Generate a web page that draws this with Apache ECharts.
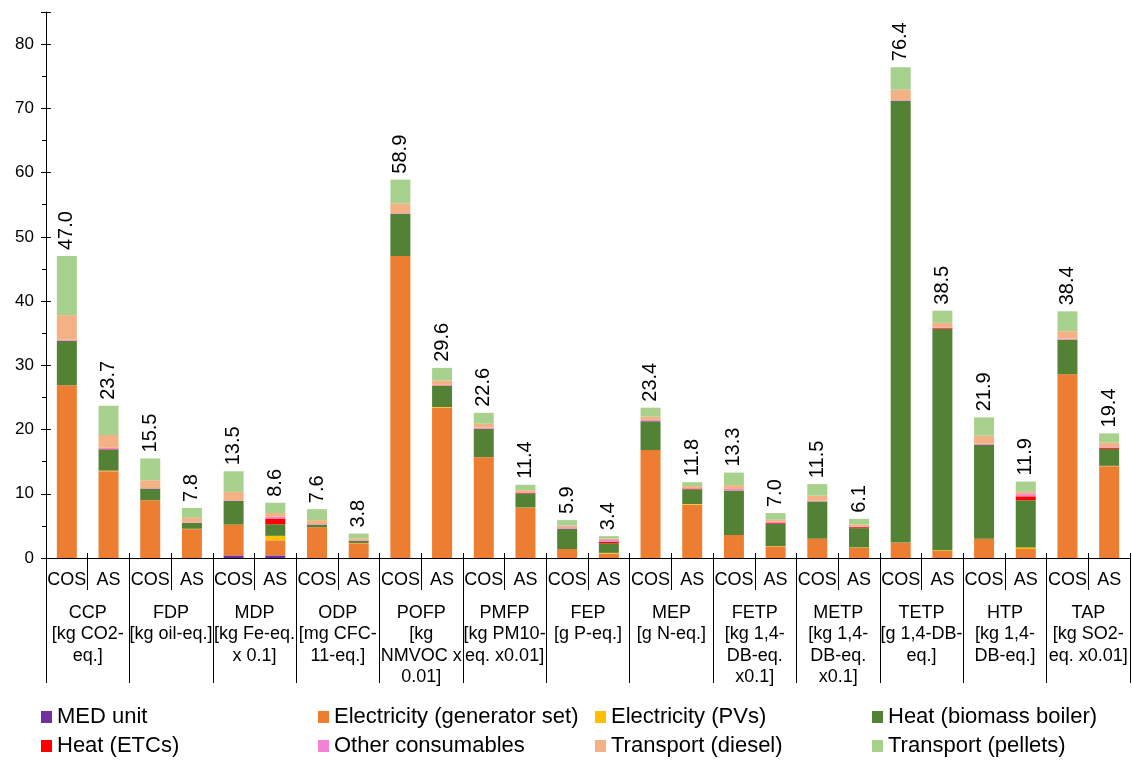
<!DOCTYPE html>
<html>
<head>
<meta charset="utf-8">
<script src="https://cdn.jsdelivr.net/npm/echarts@6/dist/echarts.min.js"></script>
<style>
  html, body { margin: 0; padding: 0; background: #fff; }
  #chart { width: 1132px; height: 760px; }
</style>
</head>
<body>
<div id="chart"></div>
<script>
// bar labels (COS / AS per impact category)
const scenarios = ['COS', 'AS', 'COS', 'AS', 'COS', 'AS', 'COS', 'AS', 'COS', 'AS', 'COS', 'AS', 'COS', 'AS',
    'COS', 'AS', 'COS', 'AS', 'COS', 'AS', 'COS', 'AS', 'COS', 'AS', 'COS', 'AS'];

// impact categories (second row of the x axis)
const groups = [
    'CCP\n[kg CO2-\neq.]',
    'FDP\n[kg oil-eq.]',
    'MDP\n[kg Fe-eq.\nx 0.1]',
    'ODP\n[mg CFC-\n11-eq.]',
    'POFP\n[kg\nNMVOC x\n0.01]',
    'PMFP\n[kg PM10-\neq. x0.01]',
    'FEP\n[g P-eq.]',
    'MEP\n[g N-eq.]',
    'FETP\n[kg 1,4-\nDB-eq.\nx0.1]',
    'METP\n[kg 1,4-\nDB-eq.\nx0.1]',
    'TETP\n[g 1,4-DB-\neq.]',
    'HTP\n[kg 1,4-\nDB-eq.]',
    'TAP\n[kg SO2-\neq. x0.01]'
];

// contributions
const medUnit = [0, 0, 0, 0, 0.4, 0.4, 0, 0, 0, 0, 0, 0, 0, 0, 0, 0, 0, 0, 0, 0, 0, 0, 0, 0, 0, 0];
const elecGen = [26.9, 13.5, 9.0, 4.5, 4.8, 2.35, 4.8, 2.3, 47.0, 23.4, 15.7, 7.8, 1.4, 0.7,
    16.8, 8.3, 3.6, 1.8, 3.0, 1.6, 2.4, 1.1, 3.0, 1.4, 28.6, 14.3];
const elecPV = [0, 0.1, 0, 0.05, 0, 0.7, 0, 0.05, 0, 0.1, 0, 0.05, 0, 0.1,
    0, 0.1, 0, 0.05, 0, 0.05, 0, 0.1, 0, 0.25, 0, 0.05];
const heatBiomass = [6.9, 3.3, 1.8, 0.9, 3.7, 1.8, 0.4, 0.3, 6.6, 3.3, 4.4, 2.2, 3.15, 1.5,
    4.5, 2.3, 6.9, 3.5, 5.8, 3.0, 68.8, 34.5, 14.6, 7.35, 5.4, 2.65];
const heatETC = [0, 0.05, 0, 0, 0, 0.9, 0, 0, 0, 0.05, 0, 0.1, 0, 0.25,
    0, 0.1, 0, 0.1, 0, 0.15, 0, 0.1, 0, 0.6, 0, 0.15];
const otherCons = [0.2, 0.2, 0.1, 0.1, 0.1, 0.25, 0.1, 0.1, 0.1, 0.1, 0.2, 0.1, 0.25, 0.25,
    0.2, 0.1, 0.25, 0.2, 0.1, 0.1, 0.1, 0.1, 0.2, 0.35, 0.15, 0.1];
const transDiesel = [3.8, 2.0, 1.2, 0.7, 1.3, 0.6, 0.6, 0.3, 1.5, 0.7, 0.6, 0.3, 0.25, 0.2,
    0.5, 0.3, 0.6, 0.3, 0.8, 0.3, 1.6, 0.7, 1.25, 0.35, 1.15, 0.7];
const transPellets = [9.2, 4.55, 3.4, 1.55, 3.2, 1.6, 1.7, 0.75, 3.7, 1.95, 1.7, 0.85, 0.85, 0.4,
    1.4, 0.6, 1.95, 1.05, 1.8, 0.9, 3.5, 1.9, 2.85, 1.6, 3.1, 1.45];

const seriesNames = ['MED unit', 'Electricity (generator set)', 'Electricity (PVs)', 'Heat (biomass boiler)',
    'Heat (ETCs)', 'Other consumables', 'Transport (diesel)', 'Transport (pellets)'];
const seriesData = [medUnit, elecGen, elecPV, heatBiomass, heatETC, otherCons, transDiesel, transPellets];
const colors = ['#7030A0', '#ED7D31', '#FFC000', '#548235', '#FF0000', '#F383D6', '#F4B183', '#A9D18E'];

const FONT = '"Liberation Sans", Arial, sans-serif';

// totals for the labels on top of each bar
const totals = scenarios.map((s, i) => seriesData.reduce((acc, arr) => acc + arr[i], 0));

const chart = echarts.init(document.getElementById('chart'), null, { renderer: 'canvas' });

const series = seriesNames.map((name, k) => {
    const s = {
        name: name,
        type: 'bar',
        stack: 'total',
        barWidth: 20,
        xAxisIndex: 0,
        yAxisIndex: 0,
        itemStyle: { color: colors[k] },
        emphasis: { disabled: true },
        data: seriesData[k]
    };
    if (k === seriesNames.length - 1) {
        s.label = {
            show: true,
            position: 'top',
            rotate: 90,
            align: 'left',
            verticalAlign: 'middle',
            distance: 6,
            color: '#000',
            fontFamily: FONT,
            fontSize: 20,
            formatter: p => totals[p.dataIndex].toFixed(1)
        };
    }
    return s;
});

// legend: 4 columns x 2 rows, one legend component per entry so columns line up
const legendLeft = [41, 318, 595, 872];
const legendTop = [706, 735];
const legends = seriesNames.map((name, k) => ({
    left: legendLeft[k % 4],
    top: legendTop[Math.floor(k / 4)],
    itemWidth: 11,
    itemHeight: 12,
    icon: 'rect',
    selectedMode: false,
    padding: 0,
    data: [name],
    textStyle: { fontFamily: FONT, fontSize: 22, color: '#000', padding: [0, 0, 0, 0] }
}));

const option = {
    animation: false,
    backgroundColor: '#fff',
    color: colors,
    legend: legends,
    grid: { left: 46, right: 2, top: 12, bottom: 202, containLabel: false },
    xAxis: [
        {
            type: 'category',
            data: scenarios,
            position: 'bottom',
            axisLine: { show: true, lineStyle: { color: '#000', width: 1 } },
            axisTick: { show: true, interval: 0, length: 32, lineStyle: { color: '#000' } },
            axisLabel: { interval: 0, margin: 13, color: '#000', fontFamily: FONT, fontSize: 18 },
            splitLine: { show: false }
        },
        {
            type: 'category',
            data: groups,
            position: 'bottom',
            axisLine: { show: false },
            axisTick: { show: true, interval: 0, length: 125, lineStyle: { color: '#000' } },
            axisLabel: { interval: 0, margin: 44, color: '#000', fontFamily: FONT, fontSize: 18, lineHeight: 21.5 },
            splitLine: { show: false }
        },
        {
            type: 'category',
            data: scenarios,
            position: 'bottom',
            axisLine: { show: false },
            axisTick: { show: true, inside: true, interval: 0, length: 5, lineStyle: { color: '#000' } },
            axisLabel: { show: false },
            splitLine: { show: false }
        }
    ],
    yAxis: [
        {
            type: 'value',
            min: 0,
            max: 85,
            interval: 10,
            axisLine: { show: true, lineStyle: { color: '#000' } },
            axisTick: { show: true, length: 5, lineStyle: { color: '#000' } },
            minorTick: { show: true, splitNumber: 2, length: 4, lineStyle: { color: '#000' } },
            axisLabel: {
                color: '#000', fontFamily: FONT, fontSize: 17, margin: 12,
                formatter: v => (v % 10 === 0 ? String(v) : '')
            },
            splitLine: { show: false }
        },
        {
            type: 'value',
            min: 0,
            max: 85,
            interval: 10,
            position: 'left',
            axisLine: { show: false },
            axisTick: { show: true, inside: true, length: 5, lineStyle: { color: '#000' } },
            axisLabel: { show: false },
            splitLine: { show: false }
        }
    ],
    series: series
};

chart.setOption(option);
</script>
</body>
</html>
